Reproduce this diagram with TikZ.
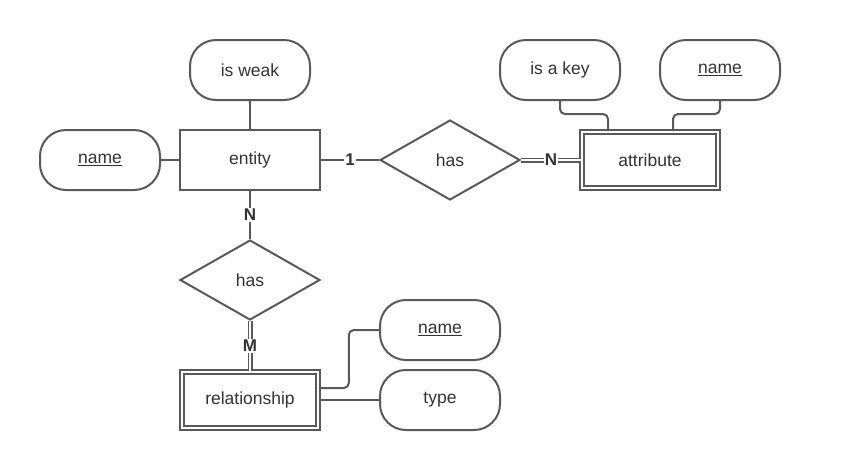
\documentclass[tikz,border=0pt]{standalone}
\usepackage{fontspec}
\setmainfont{Liberation Sans}
\usetikzlibrary{shapes.geometric}
\definecolor{ln}{HTML}{595959}
\definecolor{tx}{HTML}{333333}
\begin{document}
\begin{tikzpicture}[x=1pt,y=-1pt,
  every node/.style={font=\fontsize{17.5}{20}\selectfont, text=tx},
  ent/.style={draw=ln, line width=2pt, minimum width=140pt, minimum height=60pt, inner sep=0pt},
  wkent/.style={ent, double=white, double distance=1.8pt, line width=1.7pt, minimum width=136pt, minimum height=56pt},
  attrib/.style={draw=ln, line width=2pt, rounded corners=26pt, minimum width=120pt, minimum height=60pt, inner sep=0pt},
  rel/.style={draw=ln, line width=2pt, diamond, minimum width=140pt, minimum height=80pt, inner sep=0pt},
  conn/.style={draw=ln, line width=2pt},
  dconn/.style={draw=ln, line width=1.6pt, double=white, double distance=1.8pt},
  card/.style={fill=white, inner sep=1pt, font=\fontsize{17}{19}\selectfont\bfseries}
]
\useasboundingbox (0,0) rectangle (844,459);
% nodes
\node[ent] (entity) at (250,160) {entity};
\node[attrib] (isweak) at (250,70) {is weak};
\node[attrib] (ename) at (100,160) {\underline{name}};
\node[rel] (has1) at (450,160) {has};
\node[wkent] (attr) at (650,160) {attribute};
\node[attrib] (iskey) at (560,70) {is a key};
\node[attrib] (aname) at (720,70) {\underline{name}};
\node[rel] (has2) at (250,280) {has};
\node[wkent] (relship) at (250,400) {relationship};
\node[attrib] (rname) at (440,330) {\underline{name}};
\node[attrib] (rtype) at (440,400) {type};
% connectors
\draw[conn] (isweak) -- (entity);
\draw[conn] (ename) -- (entity);
\draw[conn] (entity) -- node[card] (c1) {1} (has1);
\draw[dconn] (has1) -- node[card] (c2) {N} (attr);
\draw[conn] (entity) -- node[card] (c3) {N} (has2);
\draw[dconn] (has2) -- node[card] (c4) {M} (relship);
\draw[conn, rounded corners=5pt] (iskey.south) -- ++(0,13) -| ([xshift=-42pt]attr.north);
\draw[conn, rounded corners=5pt] (aname.south) -- ++(0,13) -| ([xshift=23pt]attr.north);
\draw[conn, rounded corners=5pt] ([yshift=12pt]relship.east) -- ++(30,0) |- (rname.west);
\draw[conn] (relship.east) -- (rtype.west);
\end{tikzpicture}
\end{document}
